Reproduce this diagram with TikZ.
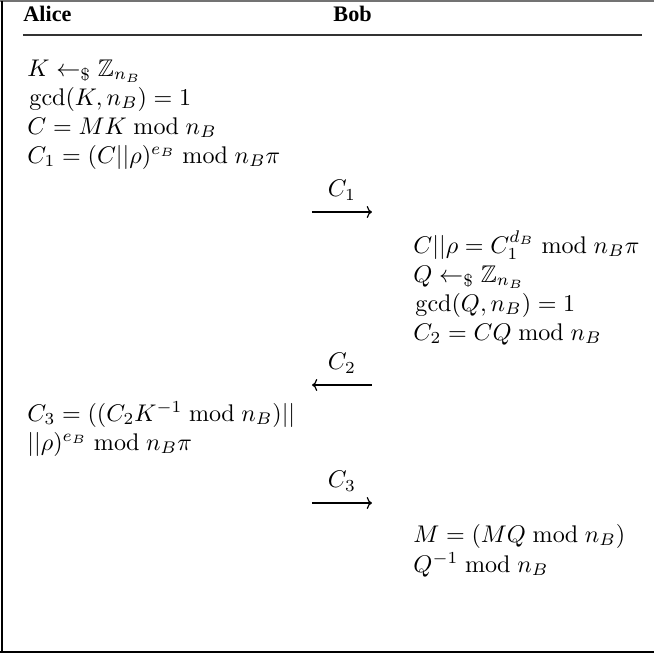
\documentclass[tikz,border=0pt]{standalone}
\usepackage{amsmath,amssymb}
\usepackage{fontspec}
\newfontfamily\headfont{Liberation Serif}
\usetikzlibrary{arrows.meta}
\begin{document}
\begin{tikzpicture}[x=0.415pt,y=-0.415pt,
  hdr/.style={anchor=base west,inner sep=0pt,font=\headfont\bfseries\fontsize{9.2}{11}\selectfont},
  eq/.style={anchor=base west,inner sep=0pt},
  lbl/.style={anchor=base,inner sep=0pt},
  msg/.style={line width=0.5pt,-{To[length=2.2pt,width=5pt]}},
  rmsg/.style={line width=0.5pt,{To[length=2.2pt,width=5pt]}-}]
\useasboundingbox (0,0) rectangle (654,655);

% frame
\draw[line width=0.5pt,black!55] (0,1) -- (654,1);
\draw[line width=0.7pt] (2,1) -- (2,652);
\draw[line width=0.9pt] (0,652) -- (654,652);

% headers
\node[hdr] (alice) at (23,21) {Alice};
\node[hdr] (bob) at (333,21) {Bob};
\draw[line width=0.7pt,black!80] (23,35) -- (642,35);

% Alice: first step
\node[eq] (a1) at (27,76)  {$K \leftarrow_{\$} \mathbb{Z}_{n_B}$};
\node[eq] (a2) at (29,105) {$\gcd(K, n_B) = 1$};
\node[eq] (a3) at (27,134) {$C = MK \bmod n_B$};
\node[eq] (a4) at (27,163) {$C_1 = (C||\rho)^{e_B} \bmod n_B\pi$};

% message C1
\coordinate (m1s) at (312,212);
\coordinate (m1e) at (372,212);
\draw[msg] (m1s) -- node[lbl,above=4.5pt] (l1) {$C_1$} (m1e);

% Bob: second step
\node[eq] (b1) at (413,253) {$C||\rho = C_1^{d_B} \bmod n_B\pi$};
\node[eq] (b2) at (413,282) {$Q \leftarrow_{\$} \mathbb{Z}_{n_B}$};
\node[eq] (b3) at (415,311) {$\gcd(Q, n_B) = 1$};
\node[eq] (b4) at (413,340) {$C_2 = CQ \bmod n_B$};

% message C2
\coordinate (m2s) at (312,385);
\coordinate (m2e) at (372,385);
\draw[rmsg] (m2s) -- node[lbl,above=4.5pt] (l2) {$C_2$} (m2e);

% Alice: third step
\node[eq] (a5) at (27,421) {$C_3 = ((C_2K^{-1} \bmod n_B)||$};
\node[eq] (a6) at (27,450) {$||\rho)^{e_B} \bmod n_B\pi$};

% message C3
\coordinate (m3s) at (312,503);
\coordinate (m3e) at (372,503);
\draw[msg] (m3s) -- node[lbl,above=4.5pt] (l3) {$C_3$} (m3e);

% Bob: final step
\node[eq] (b5) at (413,542) {$M = (MQ \bmod n_B)$};
\node[eq] (b6) at (413,572) {$Q^{-1} \bmod n_B$};
\end{tikzpicture}
\end{document}
